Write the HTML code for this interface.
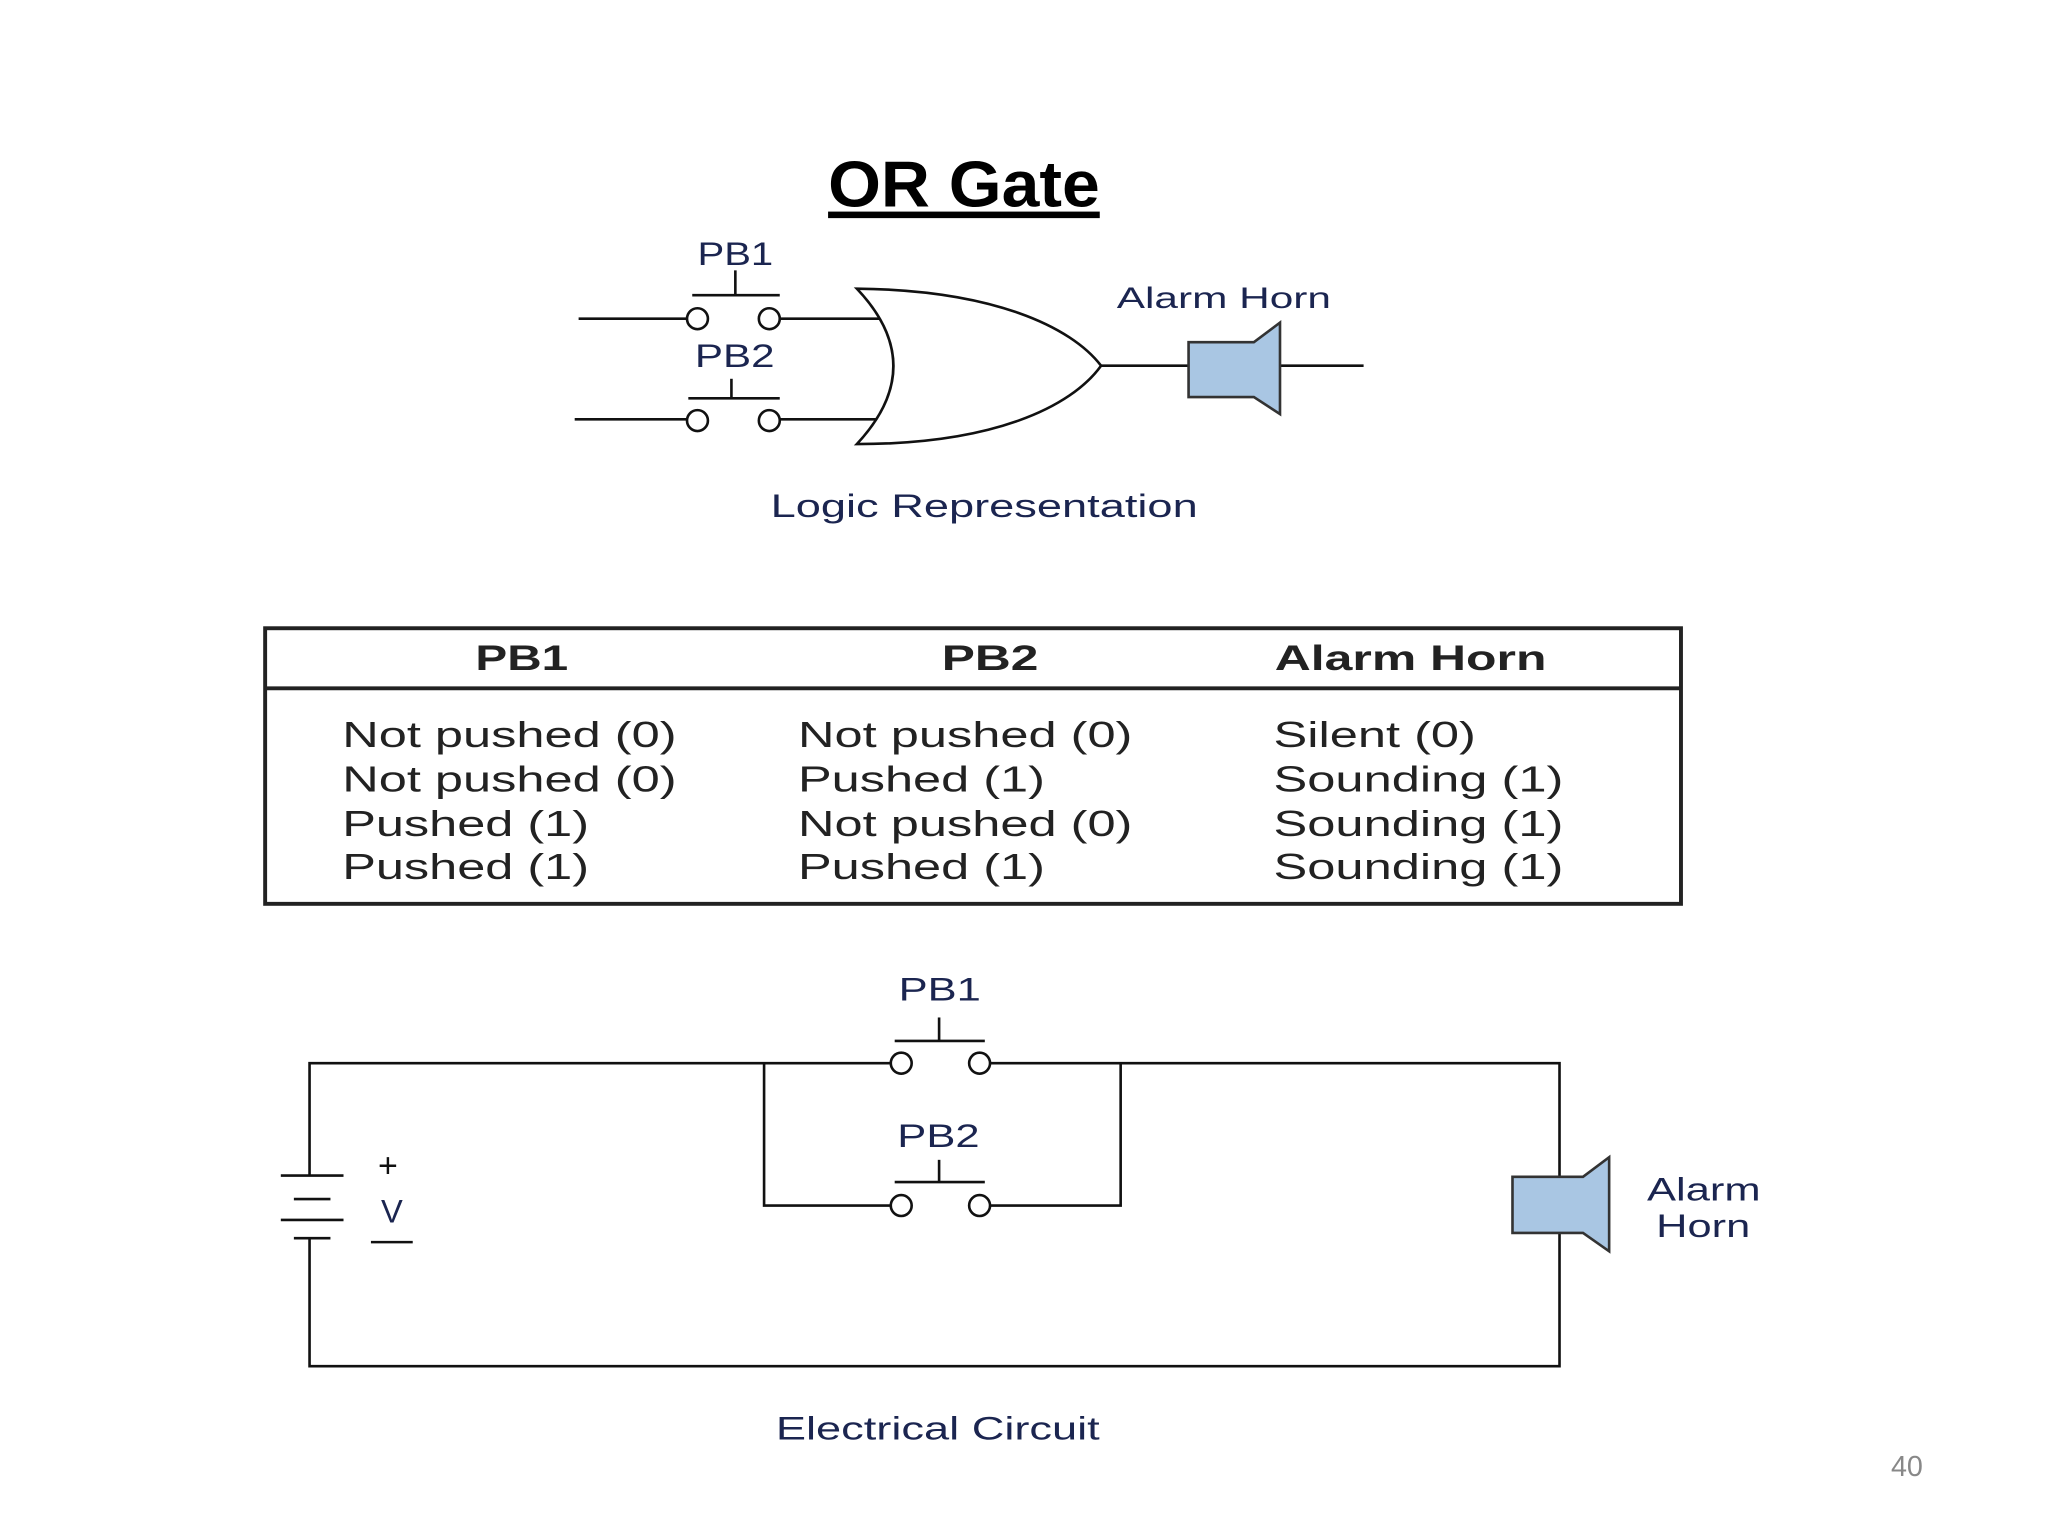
<!DOCTYPE html>
<html><head><meta charset="utf-8"><style>
html,body{margin:0;padding:0;background:#fff;}
svg{display:block;}
text{font-family:"Liberation Sans",sans-serif;}
</style></head><body>
<svg width="2048" height="1536" viewBox="0 0 1568 1176" xmlns="http://www.w3.org/2000/svg">
<rect width="1568" height="1176" fill="#fff"/>
<text x="634" y="158" textLength="208" lengthAdjust="spacingAndGlyphs" font-size="50" font-weight="bold" fill="#000">OR Gate</text>
<rect x="634" y="162" width="208" height="5" fill="#000"/>
<g stroke="#111" stroke-width="2" fill="none">
<line x1="443" y1="244" x2="526" y2="244"/><line x1="597" y1="244" x2="684" y2="244"/>
<circle cx="534" cy="244" r="8" fill="#fff"/><circle cx="589" cy="244" r="8" fill="#fff"/>
<line x1="530" y1="226" x2="597" y2="226"/><line x1="563" y1="207" x2="563" y2="226"/>
<line x1="440" y1="321" x2="526" y2="321"/><line x1="597" y1="321" x2="684" y2="321"/>
<circle cx="534" cy="322" r="8" fill="#fff"/><circle cx="589" cy="322" r="8" fill="#fff"/>
<line x1="527" y1="305" x2="597" y2="305"/><line x1="560" y1="290" x2="560" y2="305"/>
<path d="M656,221 C760,222 820,250 843,280 C820,312 760,340 656,340 Q712,280 656,221 Z" fill="#fff"/>
<line x1="843" y1="280" x2="910" y2="280"/><line x1="980" y1="280" x2="1044" y2="280"/>
</g>
<path d="M910,262 L960,262 L980,247 L980,317 L960,304 L910,304 Z" fill="#a9c6e3" stroke="#333" stroke-width="2"/>
<g fill="#1b2550" font-size="25" lengthAdjust="spacingAndGlyphs">
<text x="534" y="203" textLength="58" lengthAdjust="spacingAndGlyphs">PB1</text>
<text x="532" y="281" textLength="61" lengthAdjust="spacingAndGlyphs">PB2</text>
<text x="855" y="236" font-size="23" textLength="164" lengthAdjust="spacingAndGlyphs">Alarm Horn</text>
<text x="590" y="396" textLength="327" lengthAdjust="spacingAndGlyphs">Logic Representation</text>
</g>
<g stroke="#222" fill="none">
<rect x="203" y="481" width="1084" height="211" stroke-width="3"/>
<line x1="203" y1="527" x2="1287" y2="527" stroke-width="3"/>
</g>
<g font-size="27" font-weight="bold" fill="#222">
<text x="364" y="513" textLength="71" lengthAdjust="spacingAndGlyphs">PB1</text>
<text x="721" y="513" textLength="74" lengthAdjust="spacingAndGlyphs">PB2</text>
<text x="976" y="513" textLength="208" lengthAdjust="spacingAndGlyphs">Alarm Horn</text>
</g>
<g font-size="28" fill="#222">
<text x="262" y="572" textLength="256" lengthAdjust="spacingAndGlyphs">Not pushed (0)</text>
<text x="262" y="606" textLength="256" lengthAdjust="spacingAndGlyphs">Not pushed (0)</text>
<text x="262" y="640" textLength="189" lengthAdjust="spacingAndGlyphs">Pushed (1)</text>
<text x="262" y="673" textLength="189" lengthAdjust="spacingAndGlyphs">Pushed (1)</text>
<text x="611" y="572" textLength="256" lengthAdjust="spacingAndGlyphs">Not pushed (0)</text>
<text x="611" y="606" textLength="189" lengthAdjust="spacingAndGlyphs">Pushed (1)</text>
<text x="611" y="640" textLength="256" lengthAdjust="spacingAndGlyphs">Not pushed (0)</text>
<text x="611" y="673" textLength="189" lengthAdjust="spacingAndGlyphs">Pushed (1)</text>
<text x="975" y="572" textLength="155" lengthAdjust="spacingAndGlyphs">Silent (0)</text>
<text x="975" y="606" textLength="222" lengthAdjust="spacingAndGlyphs">Sounding (1)</text>
<text x="975" y="640" textLength="222" lengthAdjust="spacingAndGlyphs">Sounding (1)</text>
<text x="975" y="673" textLength="222" lengthAdjust="spacingAndGlyphs">Sounding (1)</text>
</g>
<g stroke="#111" stroke-width="2" fill="none">
<polyline points="237,900 237,814 682,814"/>
<polyline points="758,814 1194,814 1194,1046 237,1046 237,948"/>
<polyline points="585,814 585,923 682,923"/>
<polyline points="858,814 858,923 758,923"/>
<circle cx="690" cy="814" r="8" fill="#fff"/><circle cx="750" cy="814" r="8" fill="#fff"/>
<circle cx="690" cy="923" r="8" fill="#fff"/><circle cx="750" cy="923" r="8" fill="#fff"/>
<line x1="685" y1="797" x2="754" y2="797"/><line x1="719" y1="779" x2="719" y2="797"/>
<line x1="685" y1="905" x2="754" y2="905"/><line x1="719" y1="888" x2="719" y2="905"/>
<line x1="215" y1="900" x2="263" y2="900"/><line x1="225" y1="918" x2="253" y2="918"/>
<line x1="215" y1="934" x2="263" y2="934"/><line x1="225" y1="948" x2="253" y2="948"/>
<line x1="284" y1="951" x2="316" y2="951"/>
</g>
<path d="M1158,901 L1212,901 L1232,886 L1232,958 L1212,944 L1158,944 Z" fill="#a9c6e3" stroke="#333" stroke-width="2"/>
<g fill="#1b2550" font-size="25">
<text x="688" y="766" textLength="63" lengthAdjust="spacingAndGlyphs">PB1</text>
<text x="687" y="878" textLength="63" lengthAdjust="spacingAndGlyphs">PB2</text>
<text x="297" y="901" text-anchor="middle" fill="#111" font-size="26">+</text>
<text x="300" y="936" text-anchor="middle">V</text>
<text x="1261" y="919" textLength="87" lengthAdjust="spacingAndGlyphs">Alarm</text>
<text x="1268" y="947" textLength="72" lengthAdjust="spacingAndGlyphs">Horn</text>
<text x="594" y="1102" textLength="248" lengthAdjust="spacingAndGlyphs">Electrical Circuit</text>
</g>
<text x="1460" y="1130" text-anchor="middle" font-size="22" fill="#888">40</text>
</svg>
</body></html>
